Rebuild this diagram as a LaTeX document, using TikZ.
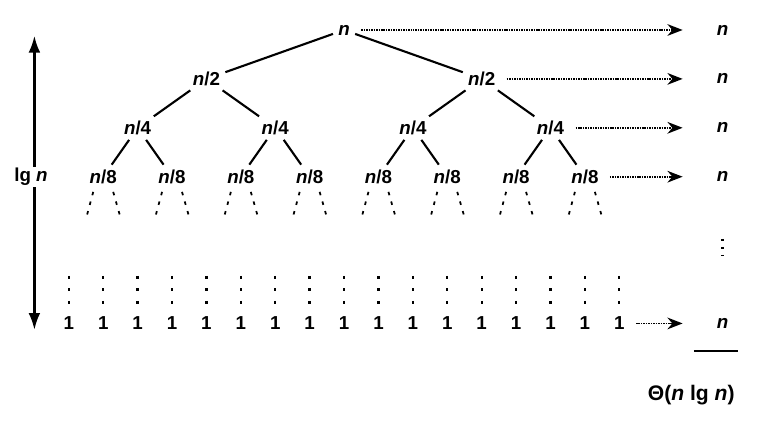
\documentclass[tikz,border=0pt]{standalone}
\usepackage{fontspec}
\setmainfont{Liberation Sans}
\usetikzlibrary{arrows.meta}
\tikzset{
  lvl/.style={font=\fontsize{16}{18}\selectfont\bfseries, inner sep=2.5pt},
  edge/.style={line width=1.8pt, shorten <=2pt, shorten >=2pt},
  stub/.style={line width=1.5pt, dash pattern=on 3pt off 5.5pt},
  leafdots/.style={line width=2pt, dash pattern=on 2.4pt off 8.2pt},
  rowsum/.style={line width=1.5pt, dash pattern=on 1.3pt off 0.8pt,
    -{Stealth[length=13pt,width=10pt]}, shorten <=0.25cm, shorten >=0.93cm},
  depth/.style={line width=1.9pt, {Latex[length=0.5cm,width=0.35cm]}-{Latex[length=0.5cm,width=0.35cm]}},
}
\newcommand{\nn}{\textit{n}}
\begin{document}
\begin{tikzpicture}[x=1.032cm,y=1.467cm]
  \useasboundingbox (0,0.613) rectangle (22.06,-8.06);
  % levels of the tree
  \node[lvl] (r) at (10,0) {\nn};
  \node[lvl] (a1) at (6,-1) {\nn/2}; \node[lvl] (a2) at (14,-1) {\nn/2};
  \foreach \i/\x in {1/4,2/8,3/12,4/16} \node[lvl] (b\i) at (\x,-2) {\nn/4};
  \foreach \i in {1,...,8} \node[lvl] (c\i) at (2*\i+1,-3) {\nn/8};
  \foreach \i in {1,...,17} \node[lvl] (l\i) at (\i+1,-6) {1};
  \draw[edge] (r) -- (a1); \draw[edge] (r) -- (a2);
  \draw[edge] (a1) -- (b1); \draw[edge] (a1) -- (b2);
  \draw[edge] (a2) -- (b3); \draw[edge] (a2) -- (b4);
  \foreach \i/\j in {1/1,1/2,2/3,2/4,3/5,3/6,4/7,4/8} \draw[edge] (b\i) -- (c\j);
  \foreach \i in {1,...,8}{
    \draw[stub] (c\i) ++(-0.29,-0.31) -- ++(-0.18,-0.47);
    \draw[stub] (c\i) ++(0.29,-0.31) -- ++(0.19,-0.47);
  }
  \foreach \i in {1,...,17} \draw[leafdots] (l\i) ++(0,0.97) -- ++(0,-0.563);
  % depth
  \coordinate (top) at (1,-0.12); \coordinate (bot) at (1,-6.13);
  \draw[depth] (top) -- (bot);
  \node[lvl,fill=white,inner sep=1pt] (lg) at (0.9,-3) {lg \nn};
  % cost per level
  \foreach \i/\y in {0/0,1/-1,2/-2,3/-3,5/-6} \node[lvl] (s\i) at (21,\y) {\nn};
  \draw[rowsum] (r) -- (s0);
  \draw[rowsum] (a2) -- (s1);
  \draw[rowsum] (b4) -- (s2);
  \draw[rowsum] (c8) -- (s3);
  \draw[rowsum] (l17) -- (s5);
  \draw[line width=2pt, dash pattern=on 2pt off 4.8pt] (21,-4.27) -- (21,-4.62);
  \draw[line width=1.4pt] (s5) ++(-0.83,-0.56) -- ++(1.28,0);
  \node[lvl,font=\fontsize{18}{20}\selectfont\bfseries] (tot) at (20.09,-7.46) {Θ(\nn{} lg \nn)};
\end{tikzpicture}
\end{document}
